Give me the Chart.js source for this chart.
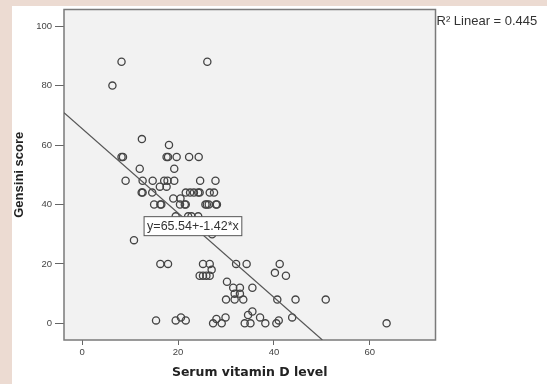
<!DOCTYPE html>
<html lang="en">
  <head>
    <meta charset="UTF-8" />
    <title>Gensini score vs serum vitamin D</title>
    <script src="https://cdn.jsdelivr.net/npm/chart.js@4.4.1/dist/chart.umd.min.js"></script>
    <style>
      body { margin: 0; background: #ecdbd2; }
      #wrap { width: 547px; height: 384px; }
    </style>
  </head>
  <body>
    <div id="wrap"><canvas id="myChart" width="547" height="384"></canvas></div>
    <script>
      // serum vitamin D level (x) and Gensini score (y)
      var vitD = [
        8.2, 26.1, 6.3, 12.45, 18.1, 8.2, 8.5, 17.6, 17.9, 19.7, 22.3, 24.3,
        12.0, 19.2, 9.05, 12.6, 14.7, 17.1, 17.8, 19.2, 24.6, 27.8, 16.2, 17.6,
        12.4, 12.6, 14.6, 21.6, 22.5, 23.3, 24.2, 24.5, 26.6, 27.5, 19.0, 20.5,
        15.0, 16.3, 16.5, 20.4, 21.4, 21.6, 25.7, 26.0, 26.4, 27.9, 28.1,
        19.5, 22.1, 22.8, 24.2, 27.1, 10.8, 16.3, 17.9, 25.2, 26.6, 27.0,
        24.5, 25.2, 25.9, 26.6, 32.1, 34.3, 41.2, 40.2, 42.5, 30.2, 31.5, 32.9,
        35.5, 31.8, 32.9, 30.0, 31.8, 33.6, 40.7, 44.5, 50.8, 43.8, 63.5,
        15.4, 19.5, 20.6, 21.6, 27.3, 28.0, 29.1, 29.9, 33.9, 34.6, 35.1, 35.5,
        37.1, 38.2, 40.5, 41.0
      ];
      var gensini = [
        88, 88, 80, 62, 60, 56, 56, 56, 56, 56, 56, 56,
        52, 52, 48, 48, 48, 48, 48, 48, 48, 48, 46, 46,
        44, 44, 44, 44, 44, 44, 44, 44, 44, 44, 42, 42,
        40, 40, 40, 40, 40, 40, 40, 40, 40, 40, 40,
        36, 36, 36, 36, 30, 28, 20, 20, 20, 20, 18,
        16, 16, 16, 16, 20, 20, 20, 17, 16, 14, 12, 12,
        12, 10, 10, 8, 8, 8, 8, 8, 8, 2, 0,
        1, 1, 2, 1, 0, 1.5, 0, 2, 0, 2.8, 0, 4,
        2, 0, 0, 1
      ];
      // fit line ends (y = 65.54 - 1.42x) where it meets the frame
      var fitX = [-3.8, 50.1];
      var fitY = [70.9, -5.6];
      var xTicks = [0, 20, 40, 60];
      var yTicks = [0, 20, 40, 60, 80, 100];
      var eqText = "y=65.54+-1.42*x";
      var r2Text = "R\u00b2 Linear = 0.445";

      var pts = vitD.map(function (v, i) { return { x: v, y: gensini[i] }; });
      var fit = fitX.map(function (v, i) { return { x: v, y: fitY[i] }; });

      // panel, grey plot area, frame and the two text labels
      var decor = {
        id: "decor",
        beforeDraw: function (chart) {
          var c = chart.ctx;
          c.save();
          c.fillStyle = "#ecdbd2";
          c.fillRect(0, 0, chart.width, chart.height);
          c.fillStyle = "#ffffff";
          c.fillRect(12, 6, chart.width - 12, chart.height - 6);
          c.restore();
        },
        beforeDatasetsDraw: function (chart) {
          var a = chart.chartArea, c = chart.ctx;
          c.save();
          c.fillStyle = "#f2f2f2";
          c.fillRect(a.left, a.top, a.right - a.left, a.bottom - a.top);
          c.strokeStyle = "#7a7a7a";
          c.lineWidth = 1.5;
          c.strokeRect(a.left, a.top, a.right - a.left, a.bottom - a.top);
          c.restore();
        },
        afterDatasetsDraw: function (chart) {
          var c = chart.ctx, a = chart.chartArea;
          var sx = chart.scales.x, sy = chart.scales.y;
          var cx = sx.getPixelForValue(23.1), cy = sy.getPixelForValue(32.7);
          c.save();
          c.font = "12.5px 'Liberation Sans', Arial, sans-serif";
          var w = c.measureText(eqText).width + 6, h = 19;
          c.fillStyle = "#ffffff";
          c.fillRect(cx - w / 2, cy - h / 2, w, h);
          c.strokeStyle = "#555";
          c.lineWidth = 1;
          c.strokeRect(cx - w / 2, cy - h / 2, w, h);
          c.fillStyle = "#333";
          c.textAlign = "center";
          c.textBaseline = "middle";
          c.fillText(eqText, cx, cy + 0.5);
          c.font = "13px 'Liberation Sans', Arial, sans-serif";
          c.textAlign = "left";
          c.fillText(r2Text, a.right + 1, a.top + 11.5);
          c.restore();
        },
      };

      new Chart(document.getElementById("myChart"), {
        type: "scatter",
        data: {
          datasets: [
            {
              type: "line",
              data: fit,
              borderColor: "#555",
              borderWidth: 1.2,
              pointRadius: 0,
              fill: false,
            },
            {
              data: pts,
              pointStyle: "circle",
              pointRadius: 3.6,
              backgroundColor: "rgba(0,0,0,0)",
              borderColor: "#444",
              borderWidth: 1.3,
            },
          ],
        },
        options: {
          responsive: false,
          animation: false,
          devicePixelRatio: 1,
          layout: { padding: { left: 0, top: 9.5, right: 111.5, bottom: 0 } },
          plugins: { legend: { display: false }, tooltip: { enabled: false } },
          scales: {
            x: {
              type: "linear",
              min: -3.8,
              max: 73.7,
              afterBuildTicks: function (s) { s.ticks = xTicks.map(function (v) { return { value: v }; }); },
              afterFit: function (s) { s.height = 44; },
              border: { display: false },
              grid: { drawOnChartArea: false, drawTicks: true, tickLength: 5, color: "#666" },
              ticks: { padding: 2, maxRotation: 0, color: "#444", font: { family: "'Liberation Sans', Arial", size: 9.5 } },
              title: {
                display: true,
                text: "Serum vitamin D level",
                color: "#222",
                padding: { top: 0, bottom: 3.5 },
                font: { family: "'DejaVu Sans'", size: 12.5, weight: "bold", lineHeight: 1.2 },
              },
            },
            y: {
              type: "linear",
              min: -5.6,
              max: 105.6,
              afterBuildTicks: function (s) { s.ticks = yTicks.map(function (v) { return { value: v }; }); },
              afterFit: function (s) { s.width = 64; },
              border: { display: false },
              grid: { drawOnChartArea: false, drawTicks: true, tickLength: 9, color: "#666" },
              ticks: { padding: 3, color: "#444", font: { family: "'Liberation Sans', Arial", size: 9.5 } },
              title: {
                display: true,
                text: "Gensini score",
                color: "#222",
                padding: { top: 12, bottom: 0 },
                font: { family: "'Liberation Sans', Arial", size: 13, weight: "bold", lineHeight: 1.2 },
              },
            },
          },
        },
        plugins: [decor],
      });
    </script>
  </body>
</html>
